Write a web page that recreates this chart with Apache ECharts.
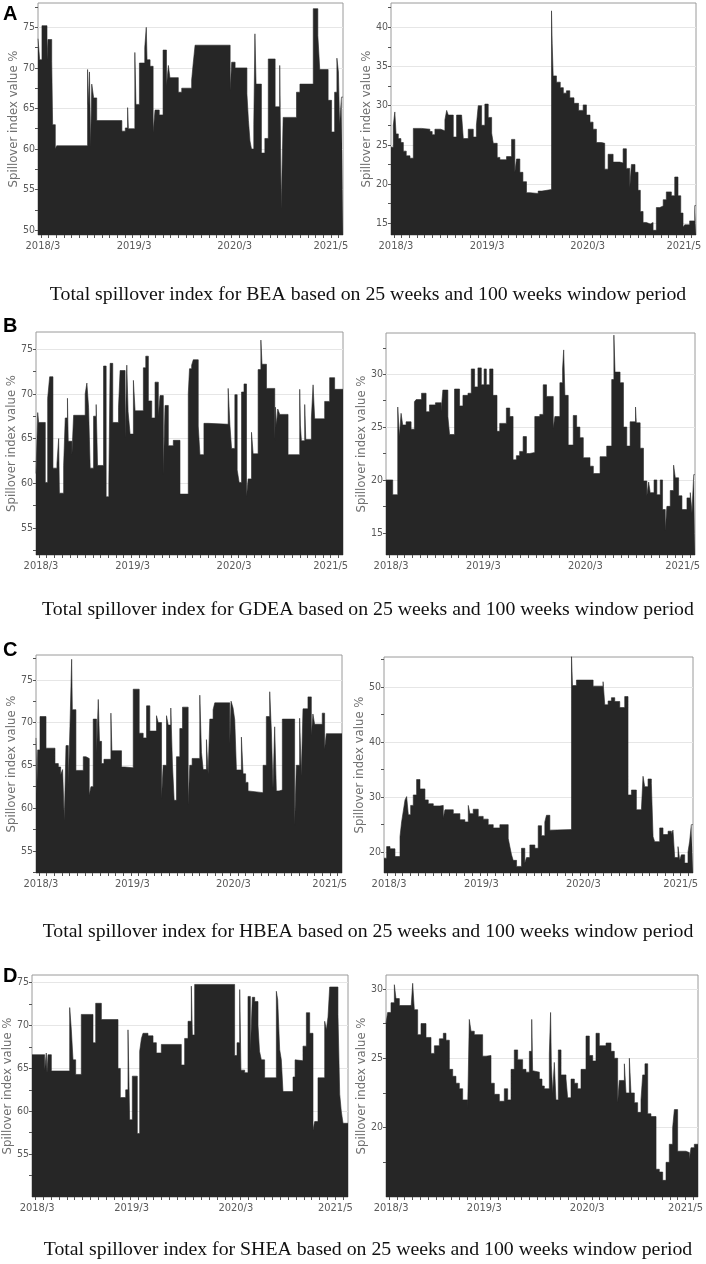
<!DOCTYPE html>
<html>
<head>
<meta charset="utf-8">
<script src="https://cdn.jsdelivr.net/npm/echarts@6/dist/echarts.min.js"></script>
<style>html,body{margin:0;padding:0;background:#fff}#c{width:706px;height:1264px}</style>
</head>
<body>
<div id="c"></div>
<script>
// x = months counted from the first tick (2018/3); each pair is [x, value], value holds until next x
const xLabels = ['2018/3', '2019/3', '2020/3', '2021/5'];
const xLabelPos = [0.65, 12.6, 25.8, 38.4];

const beaShort = [[0,73.6],[0.22,71],[0.52,75.2],[1.18,71],[1.3,73.5],[1.8,70.8],[1.92,63],[2.27,60],[2.45,60.4],[6.5,69.8],[6.6,65.5],[6.75,69.5],[6.9,60.2],[7.05,68],[7.3,66.3],[7.7,63.5],[11.0,62.2],[11.45,62.6],[11.75,65.1],[11.85,62.5],[12.7,71.9],[12.85,65.5],[13.3,70.6],[14.0,72.5],[14.2,75],[14.3,71],[14.7,70.2],[15.1,62.1],[15.35,64.8],[15.9,64.2],[16.4,72.2],[16.85,67.8],[17.1,70.3],[17.3,68.8],[18.4,67],[18.85,67.5],[20.15,68.5],[20.35,70.5],[20.6,72.8],[25.2,67.2],[25.4,70.7],[25.85,70],[27.4,66.8],[27.6,63.5],[27.8,61],[28.0,60],[28.3,63],[28.45,74.2],[28.6,68],[29.3,59.5],[29.75,61.3],[30.2,71.1],[31.1,65.2],[31.7,70.3],[31.9,52.7],[32.15,63.9],[33.9,67],[34.35,68],[36.1,77.3],[36.7,74],[36.95,69.8],[38.05,66],[38.5,62.1],[38.9,67],[39.2,71.2],[39.4,69.5],[39.55,63],[39.8,66.4],[40,66.4]];
const beaLong = [[0,24.7],[0.3,27.5],[0.5,29.2],[0.66,26.4],[0.96,25.8],[1.3,25.3],[1.62,24.2],[2.0,23.6],[2.49,23.3],[2.93,27.1],[4.0,27.0],[5.1,26.7],[5.4,26.3],[5.76,27.0],[6.5,26.8],[7.07,28.2],[7.3,29.4],[7.51,28.8],[8.17,26.0],[8.6,28.8],[9.26,29.0],[9.48,25.8],[10.13,27.0],[10.79,26.0],[11.2,27.5],[11.44,30.0],[11.88,27.5],[12.31,30.2],[12.75,28.5],[13.2,26.5],[13.41,25.2],[13.93,23.4],[14.28,23.1],[15.15,23.5],[15.81,25.7],[16.24,21.5],[16.46,23.2],[16.9,21.5],[17.3,20.3],[17.77,18.9],[18.21,18.8],[19.3,19.1],[19.8,19.3],[21.05,42.1],[21.14,37.9],[21.27,33.8],[21.7,33.0],[22.2,32.3],[22.6,31.6],[23.01,31.9],[23.45,31.0],[24.0,30.3],[24.6,29.4],[25.2,30.1],[25.63,28.8],[26.1,27.9],[26.5,27.0],[26.94,25.3],[27.6,25.2],[28.03,21.9],[28.47,23.8],[29.13,22.8],[30.0,22.7],[30.44,24.5],[30.87,22.0],[31.31,19.5],[31.53,22.5],[32.0,21.5],[32.4,19.2],[32.7,16.5],[33.06,15.1],[33.49,14.9],[34.0,15.1],[34.37,14.1],[34.8,17.0],[35.24,17.2],[35.7,18.0],[36.11,19.0],[36.77,18.5],[37.21,20.9],[37.64,18.5],[38.0,16.3],[38.3,14.5],[38.52,14.8],[39.17,15.3],[39.83,17.25],[40,17.25]];
const gdeaShort = [[0,61.1],[0.22,67.9],[0.35,66.8],[1.21,60.1],[1.52,69.5],[1.78,71.9],[2.21,61.7],[2.73,62.2],[2.95,65],[3.05,58.9],[3.6,62],[3.81,67.3],[4.1,69.5],[4.2,64.7],[4.68,63.2],[4.9,67.6],[6.41,70],[6.63,71.2],[6.85,68.5],[7.06,61.7],[7.5,67.5],[7.84,68.8],[8.02,62],[8.8,73.1],[9.14,58.5],[9.49,60],[9.66,73.4],[10.0,66.8],[10.75,68.5],[10.96,72.6],[11.61,65.1],[11.83,73.2],[12.0,68],[12.26,65.5],[12.69,71.5],[12.91,68.1],[13.99,72.9],[14.3,74.2],[14.64,69.2],[15.08,67.3],[15.51,71.3],[15.94,67.5],[16.16,69.8],[16.59,61],[16.81,68.7],[17.24,64.2],[17.89,64.8],[18.76,58.8],[19.84,70],[20.0,72.8],[20.28,73.2],[20.49,73.8],[21.14,66.4],[21.36,63.2],[21.88,66.7],[22.44,66.6],[25.04,70.6],[25.26,66.6],[25.48,63.9],[25.91,69.9],[26.21,61.5],[26.47,60.1],[26.78,70.2],[27.1,71.1],[27.43,58.5],[27.64,60.5],[28.08,65.7],[28.29,63.3],[28.94,72.7],[29.3,76],[29.45,73.3],[30.03,70.6],[31.11,64.8],[31.2,68.5],[31.33,66.5],[31.5,68.3],[31.76,67.7],[32.84,63.2],[34.36,70.5],[34.45,66.5],[34.58,64.75],[35.01,68.8],[35.15,64.9],[35.88,67.3],[36.1,71],[36.31,67.2],[37.61,69.15],[38.26,71.8],[38.91,70.5],[40,70.5]];
const gdeaLong = [[0,20],[0.87,18.6],[1.52,26.9],[1.73,24.1],[1.95,26.3],[2.16,25.2],[2.6,25.5],[3.25,24.8],[3.68,27.4],[3.9,27.6],[4.6,28.2],[5.19,26.45],[5.63,27.1],[6.4,27.3],[7.14,26.5],[7.36,28.5],[8.01,26],[8.23,24.3],[8.87,28.6],[9.52,27],[9.96,28],[10.61,28.2],[11.04,30.5],[11.47,28.8],[11.9,30.6],[12.34,29],[12.7,30.5],[12.99,29],[13.42,30.5],[13.85,28],[14.37,24.6],[14.72,25.35],[15.58,26.8],[16.02,26],[16.45,21.9],[16.88,22.3],[17.3,22.7],[17.75,24.1],[18.18,22.5],[18.61,22.6],[19.26,26],[19.91,26.2],[20.35,29],[20.78,27.9],[21.65,24.9],[21.86,26],[22.51,29.2],[22.86,30.5],[23.0,32.3],[23.16,28],[23.59,23.3],[24.24,26.1],[24.68,25],[25.1,24],[25.54,22.1],[26.41,21.3],[26.84,20.6],[27.71,22.2],[28.57,23.2],[29.22,29.5],[29.5,33.7],[29.65,30.2],[30.3,29.2],[30.74,25],[31.17,23.2],[31.6,25.5],[32.3,26.9],[32.4,25.4],[32.9,23],[33.33,19.9],[33.77,18.5],[34.0,19.8],[34.2,18.8],[34.7,20],[35.06,18.6],[35.5,20],[35.8,17.2],[36.15,15.2],[36.36,17.5],[36.8,19],[37.23,21.4],[37.45,20.2],[37.88,18.5],[38.31,17.2],[38.96,18.3],[39.39,18.8],[39.61,16.9],[39.83,20.5],[40,20.5]];
const hbeaShort = [[0,68.2],[0.1,61.7],[0.22,66.8],[0.52,70.7],[1.31,67],[2.48,65.2],[2.92,64.8],[3.22,63.9],[3.48,64.5],[3.7,58.6],[3.92,67.3],[4.22,62.7],[4.44,69.5],[4.66,77.4],[4.75,71.5],[5.22,64.4],[6.18,66],[6.53,65.8],[6.96,61.5],[7.18,62.5],[7.48,70.4],[7.92,66.4],[8.14,72.7],[8.3,67.8],[8.57,65.2],[8.88,65.7],[9.79,71.1],[9.92,66.7],[11.18,64.8],[11.62,64.7],[12.71,73.9],[13.49,68.75],[14.01,68.2],[14.45,71.95],[14.88,69],[15.75,70.8],[15.97,70],[16.41,61.1],[16.62,65],[17.06,70.8],[17.28,69.7],[17.62,71.7],[17.84,65],[18.06,60.9],[18.36,66],[18.8,69.3],[19.15,71.8],[19.89,60.4],[20.1,65],[20.41,65.8],[21.41,73.2],[21.63,66.5],[21.85,64.5],[22.28,68],[22.5,64],[22.72,70.4],[23.15,71.5],[23.37,72.3],[25.33,67.5],[25.5,72.5],[25.76,71.7],[25.98,70.3],[26.2,64.45],[26.85,68.3],[27.07,64],[27.4,63],[27.72,62],[27.94,61.8],[29.68,65],[30.11,70.7],[30.55,73.6],[30.77,69],[30.98,62.3],[31.2,69.5],[31.42,62],[31.77,62.1],[32.2,70.4],[33.81,58],[34.03,65],[34.46,70.5],[34.68,63.8],[34.9,71.6],[35.55,73],[35.99,68.5],[36.2,71],[36.42,69.8],[37.42,71.1],[37.73,66.9],[37.95,68.7],[40,68.7]];
const hbeaLong = [[0,18.9],[0.34,21],[0.78,20.6],[1.42,19.2],[2.07,22.8],[2.28,25.5],[2.5,27.5],[2.72,29.5],[2.93,30.1],[3.15,26.8],[3.45,28.5],[3.79,30.4],[4.22,33.2],[4.66,31.5],[5.3,29.5],[5.73,28.8],[6.38,28.4],[7.24,28.5],[7.67,26.2],[7.89,27.7],[8.97,27],[9.83,25.9],[10.47,25.5],[10.91,28.5],[11.12,27],[11.55,27.8],[12.2,26.5],[12.84,26],[13.49,25],[14.14,24.4],[15.0,25],[16.08,22.5],[16.29,21],[16.51,19.5],[16.72,18.5],[17.16,17.4],[17.8,20.7],[18.23,18],[18.45,19],[18.88,21.3],[19.53,20.7],[19.96,24.8],[20.39,23],[20.82,25.5],[21.03,26.7],[21.47,24],[21.68,24.1],[24.27,55.9],[24.4,50.3],[24.91,51.3],[27.07,50.2],[28.36,51],[28.58,46.8],[29.01,47.5],[29.44,48.1],[29.87,47.4],[30.52,46.3],[31.16,48.3],[31.59,30.4],[32.03,31.3],[32.67,27.7],[33.32,28],[33.53,33.8],[33.75,31.9],[34.18,33.3],[34.61,32.5],[34.83,22.8],[35.04,21.9],[35.69,24.4],[36.12,23.2],[36.77,23.8],[37.2,23.2],[37.41,24],[37.63,19],[38.06,21],[38.28,18.5],[38.49,19.5],[38.92,18],[39.35,20],[39.57,22],[39.78,25],[40,25]];
const sheaShort = [[0,66.6],[1.6,64.8],[1.81,66.8],[1.9,64.5],[2.03,66.6],[2.45,64.7],[4.77,72.1],[4.98,69.5],[5.19,66],[5.53,64.3],[6.24,71.3],[7.72,68],[8.06,72.6],[8.78,70.7],[10.89,65],[11.18,61.6],[11.86,62.5],[12.15,69.5],[12.36,59],[12.7,64.1],[13.33,57.4],[13.63,67],[13.85,68.5],[14.05,69.1],[14.68,68.8],[15.32,68],[15.74,66.8],[16.37,67.8],[18.9,65.4],[19.32,68.5],[19.75,70.5],[20.17,74.6],[20.3,68.9],[20.59,74.8],[25.65,66.5],[25.95,68],[26.29,74.2],[26.45,64.8],[26.92,64.5],[27.34,73.4],[27.64,67],[27.89,73.3],[28.19,72.8],[28.61,70],[28.8,67],[29.03,66],[29.45,63.9],[30.93,74],[31.1,73],[31.35,67.2],[31.56,66],[31.77,62.3],[33.04,64],[33.3,66],[33.46,65.9],[34.3,67.6],[34.73,71.5],[35.15,69.1],[35.57,57.8],[35.78,58.8],[36.2,63.9],[37.05,70.5],[37.26,69.5],[37.47,71],[37.68,74.5],[38.73,71.3],[38.95,62],[39.15,60],[39.37,58.6],[40,58.6]];
const sheaLong = [[0,27.5],[0.21,28.3],[0.64,29],[1.07,30.3],[1.28,29.3],[1.71,28.8],[3.21,28.6],[3.42,30.4],[3.63,28.5],[4.06,26.7],[4.49,27.5],[5.13,26.5],[5.77,25.35],[6.2,25.9],[6.84,26.4],[7.35,26.8],[7.69,26.3],[8.12,24.2],[8.55,23.7],[8.97,23.2],[9.4,22.8],[9.83,22],[10.47,21.4],[10.68,27.8],[10.9,26.95],[11.32,26.7],[12.39,25.15],[12.82,25.2],[13.46,23.2],[13.89,22.4],[14.53,21.9],[15.17,22.8],[15.6,22],[16.03,24.2],[16.45,25.6],[16.88,24.9],[17.52,24.2],[17.95,24],[18.38,25.5],[18.68,27.8],[18.8,24.1],[19.02,24],[19.66,23.5],[20.0,23],[20.3,22.8],[20.94,25.3],[21.1,28.3],[21.2,24.5],[21.37,22.5],[21.58,24.7],[21.79,22],[22.09,25.6],[22.44,23.8],[23.08,23.5],[23.29,22.15],[23.72,23.5],[24.15,23.2],[24.57,22.8],[25.0,24.2],[25.64,26.6],[26.07,25.2],[26.5,24.8],[26.92,26.8],[27.35,25.9],[28.21,26.1],[28.85,25.5],[29.27,25],[29.7,21.8],[29.91,23.4],[30.56,24.6],[30.77,22.5],[31.2,25],[31.41,22.5],[31.84,21.8],[32.26,21.1],[32.69,22],[32.91,23.8],[33.2,24.6],[33.55,21],[33.97,20.8],[34.62,17],[35.04,16.8],[35.47,16.2],[35.9,17.5],[36.32,18.8],[36.75,20],[36.97,21.3],[37.39,18.3],[38.46,18.2],[38.89,17.7],[39.1,18.55],[39.53,18.8],[40,18.8]];

// y-axis tick labels for each panel
const yLabelsA1 = [50, 55, 60, 65, 70, 75];
const yLabelsA2 = [15, 20, 25, 30, 35, 40];
const yLabelsB1 = [55, 60, 65, 70, 75];
const yLabelsB2 = [15, 20, 25, 30];
const yLabelsC1 = [55, 60, 65, 70, 75];
const yLabelsC2 = [20, 30, 40, 50];
const yLabelsD1 = [55, 60, 65, 70, 75];
const yLabelsD2 = [20, 25, 30];

const captions = [
  'Total spillover index for BEA based on 25 weeks and 100 weeks window period',
  'Total spillover index for GDEA based on 25 weeks and 100 weeks window period',
  'Total spillover index for HBEA based on 25 weeks and 100 weeks window period',
  'Total spillover index for SHEA based on 25 weeks and 100 weeks window period'
];
const panelLetters = ['A', 'B', 'C', 'D'];
const yName = 'Spillover index value %';

function range(a, b, s) { const r = []; for (let v = a; v <= b + 1e-9; v += s) r.push(Math.round(v * 100) / 100); return r; }

const panels = [
  { data: beaShort,  grid: { left: 38,  top: 3,   width: 305, height: 232 }, y: [49.4, 78],   labels: yLabelsA1, ticks: range(50, 77.5, 2.5) },
  { data: beaLong,   grid: { left: 391, top: 3,   width: 305, height: 232 }, y: [13.5, 43.1], labels: yLabelsA2, ticks: range(15, 42.5, 2.5) },
  { data: gdeaShort, grid: { left: 36,  top: 332, width: 307, height: 223 }, y: [52, 76.9],   labels: yLabelsB1, ticks: range(52.5, 75, 2.5) },
  { data: gdeaLong,  grid: { left: 386, top: 333, width: 309, height: 222 }, y: [12.9, 33.9], labels: yLabelsB2, ticks: range(15, 32.5, 2.5) },
  { data: hbeaShort, grid: { left: 36,  top: 655, width: 306, height: 218 }, y: [52.4, 77.9], labels: yLabelsC1, ticks: range(52.5, 77.5, 2.5) },
  { data: hbeaLong,  grid: { left: 384, top: 657, width: 309, height: 216 }, y: [16.2, 55.5], labels: yLabelsC2, ticks: range(20, 55, 5) },
  { data: sheaShort, grid: { left: 32,  top: 975, width: 316, height: 222 }, y: [50, 75.9],   labels: yLabelsD1, ticks: range(52.5, 75, 2.5) },
  { data: sheaLong,  grid: { left: 386, top: 975, width: 312, height: 222 }, y: [15, 31],     labels: yLabelsD2, ticks: range(17.5, 30, 2.5) }
];

const tickFont = '"DejaVu Sans Condensed", "Liberation Sans Narrow", Roboto, sans-serif';
const xTickPos = range(0.4, 39.4, 1);
const fill = '#262626';

const grid = [], xAxis = [], yAxis = [], series = [];
panels.forEach((p, i) => {
  grid.push(Object.assign({ show: true, borderColor: '#9a9a9a', borderWidth: 1, backgroundColor: '#fff' }, p.grid));
  xAxis.push({
    type: 'value', gridIndex: i, min: 0, max: 40,
    axisLine: { show: false }, splitLine: { show: false },
    axisTick: { show: true, customValues: xTickPos, length: 3, lineStyle: { color: '#555' } },
    axisLabel: {
      customValues: xLabelPos, color: '#5a5a5a', fontSize: 11, fontFamily: tickFont, margin: 6,
      formatter: v => { const k = xLabelPos.findIndex(q => Math.abs(q - v) < 1e-6); return k >= 0 ? xLabels[k] : ''; }
    }
  });
  yAxis.push({
    type: 'value', gridIndex: i, min: p.y[0], max: p.y[1], position: 'left',
    axisLine: { show: false }, splitLine: { show: false },
    axisTick: { show: true, customValues: p.ticks, length: 3, lineStyle: { color: '#555' } },
    axisLabel: { customValues: p.labels, color: '#5a5a5a', fontSize: 10.5, fontFamily: tickFont, margin: 3 },
    name: yName, nameLocation: 'middle', nameGap: 18, nameMoveOverlap: false,
    nameTextStyle: { color: '#707070', fontSize: 13, fontFamily: tickFont }
  });
  yAxis.push({
    type: 'value', gridIndex: i, min: p.y[0], max: p.y[1], position: 'left',
    axisLine: { show: false }, axisLabel: { show: false },
    axisTick: { show: false, customValues: p.labels },
    splitLine: { show: true, lineStyle: { color: '#e6e6e6', width: 1 } }
  });
  series.push({
    type: 'line', xAxisIndex: i, yAxisIndex: 2 * i, data: p.data, step: 'end',
    symbol: 'none', silent: true,
    lineStyle: { color: fill, width: 0.6 },
    areaStyle: { color: fill, opacity: 1, origin: 'start' }
  });
});

const captionMid = [295, 610, 932, 1250];
const letterTops = [4, 316, 640, 966];
const graphic = [];
captions.forEach((t, i) => {
  graphic.push({ type: 'text', x: 368, y: captionMid[i],
    style: { text: t, font: '19.8px "Liberation Serif", "Times New Roman", serif', fill: '#111',
             textAlign: 'center', textVerticalAlign: 'middle' } });
  graphic.push({ type: 'text', left: 3, top: letterTops[i],
    style: { text: panelLetters[i], font: 'bold 20px "Liberation Sans", Arial, sans-serif', fill: '#000' } });
});

const chart = echarts.init(document.getElementById('c'), null, { renderer: 'canvas' });
chart.setOption({ animation: false, backgroundColor: '#fff', grid, xAxis, yAxis, series, graphic });
</script>
</body>
</html>
